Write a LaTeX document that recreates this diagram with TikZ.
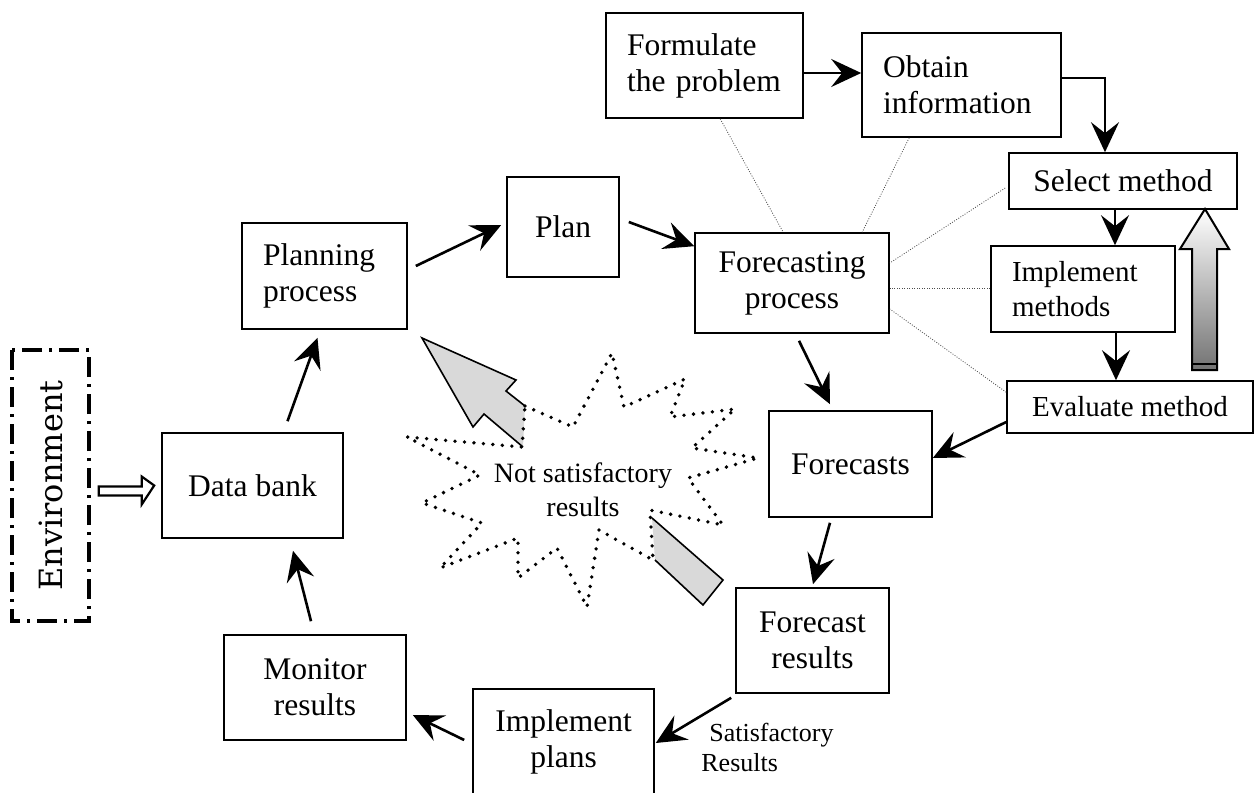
\documentclass[tikz,border=0pt]{standalone}
\usepackage{fontspec}
\setmainfont{Liberation Serif}
\newfontfamily\envfont{DejaVu Serif}
\usetikzlibrary{arrows.meta,calc}
\newcommand\mainsize{\fontsize{31.5}{36}\selectfont}
\newcommand\smallsize{\fontsize{29}{35}\selectfont}
\begin{document}
\begin{tikzpicture}[x=1pt,y=-1pt,
  box/.style={draw, line width=1.6pt, inner sep=0pt, font=\mainsize, align=center},
  lbox/.style={box, align=left, inner xsep=21pt},
  arr/.style={line width=2.6pt, -{Stealth[length=30pt,width=28pt,inset=11pt]}},
  dotlink/.style={line width=0.8pt, dash pattern=on 0.9pt off 1.6pt, black!70},
  starline/.style={line width=3.8pt, dash pattern=on 0pt off 9.5pt, line cap=round},
  grayfill/.style={fill=black!15},
  grayedge/.style={line width=1.6pt, line join=miter},
]
\path[fill=white, use as bounding box] (0,0) rectangle (1254,793);

% boxes
\node[lbox, text width=155pt, minimum height=105pt] (form) at (704.5,65.5) {Formulate\\the problem};
\node[lbox, text width=157pt, minimum height=104pt] (obtain) at (961.5,85) {Obtain\\information};
\node[box, minimum width=228pt, minimum height=56pt] (select) at (1123,181) {Select method};
\node[lbox, text width=142pt, minimum height=86pt, font=\smallsize] (implm) at (1083,289) {Implement\\methods};
\node[box, minimum width=246pt, minimum height=52pt, font=\smallsize] (eval) at (1130,407) {Evaluate method};
\node[box, minimum width=194pt, minimum height=100pt] (fproc) at (792,283) {Forecasting\\process};
\node[box, minimum width=112pt, minimum height=100pt] (plan) at (563,227) {Plan};
\node[lbox, text width=123pt, minimum height=106pt] (pproc) at (324.5,276) {Planning\\process};
\node[box, minimum width=163pt, minimum height=106pt] (forecasts) at (850.5,464) {Forecasts};
\node[box, minimum width=153pt, minimum height=105pt] (fres) at (812.5,640.5) {Forecast\\results};
\node[box, minimum width=181pt, minimum height=105pt] (implp) at (563.5,741.5) {Implement\\plans};
\node[box, minimum width=182pt, minimum height=105pt] (monitor) at (315,687.5) {Monitor\\results};
\node[box, minimum width=181pt, minimum height=105pt] (data) at (252.5,485.5) {Data bank};
\node[draw, rotate=90, line width=3.4pt, dash pattern=on 20pt off 7pt on 3pt off 7pt,
      minimum width=271pt, minimum height=77pt, inner sep=0pt,
      font=\envfont\fontsize{32}{36}\selectfont] (env) at (50.5,485.5) {Environment};

% hollow arrow environment -> data bank
\draw[line width=2.2pt, fill=white, line join=miter]
  ($(env.south)+(8,1)$) -- ++(43,0) -- ++(0,-10) -- ($(data.west)+(-7,0)$)
  -- ($(env.south)+(51,19)$) -- ++(0,-9) -- ($(env.south)+(8,10)$) -- cycle;

% main arrows
\draw[arr] ($(data.north)+(35,-11)$) -- ($(pproc.south)+(-7,8)$);
\draw[arr] ($(pproc.east)+(8,-10)$) -- ($(plan.west)+(-5,-2)$);
\draw[arr] ($(plan.east)+(9,-5)$) -- ($(fproc.north west)+(0,14)$);
\draw[arr] ($(fproc.south)+(7,7)$) -- ($(forecasts.north)+(-20.5,-6)$);
\draw[arr] ($(form.east)+(0,7.5)$) -- ($(obtain.west)+(0,-12)$);
\draw[arr] ($(obtain.east)+(0,-7)$) -| ($(select.north)+(-18,0)$);
\draw[arr] ($(select.south)+(-8,0)$) -- ($(implm.north)+(32,0)$);
\draw[arr] ($(implm.south)+(33,0)$) -- ($(eval.north)+(-14,0)$);
\draw[arr] ($(eval.west)+(0,15)$) -- ($(forecasts.east)+(0,-6)$);
\draw[arr] ($(forecasts.south)+(-20.5,5)$) -- ($(fres.north)+(0.5,-3)$);
\draw[arr] ($(fres.south west)+(-4,4)$) -- ($(implp.east)+(1,1.5)$);
\draw[arr] ($(implp.west)+(-8,-1.5)$) -- ($(monitor.east)+(6,27.5)$);
\draw[arr] ($(monitor.north)+(-4,-13)$) -- ($(data.south)+(40.5,12)$);

% dotted links
\draw[dotlink] ($(form.south west)+(115,0)$) -- ($(fproc.north west)+(89,0)$);
\draw[dotlink] ($(obtain.south west)+(48,0)$) -- ($(fproc.north west)+(168,0)$);
\draw[dotlink] ($(select.west)+(-3,7)$) -- ($(fproc.east)+(0,-20)$);
\draw[dotlink] ($(implm.west)+(0,-1)$) -- ($(fproc.east)+(0,5)$);
\draw[dotlink] ($(eval.north west)+(0,12)$) -- ($(fproc.east)+(0,26)$);

% shaded up arrow
\shadedraw[top color=white, bottom color=black!55, line width=2pt, line join=miter]
  (1192,370) -- (1192,249) -- (1180,249) -- (1205,209) -- (1229,249) -- (1217,249) -- (1217,370) -- cycle;
\draw[line width=2.5pt] (1191,370) -- (1218,370);
\draw[line width=1.5pt] (1191,364) -- (1218,364);

% gray arrows
\fill[grayfill] (422,338) -- (516,380) -- (506,391) -- (525,406) -- (523,447) -- (484,414) -- (473,427) -- cycle;
\fill[grayfill] (652,518) -- (723,580) -- (703,605) -- (655,560) -- cycle;

% starburst
\draw[starline] (525,406) -- (573,427) -- (612,353) -- (624,407) -- (685,379) -- (670,417)
  -- (735,409) -- (692,448) -- (758,458) -- (688,478) -- (723,525) -- (650,510)
  -- (653,560) -- (599,530) -- (587,607) -- (557,548) -- (518,578) -- (518,538)
  -- (440,568) -- (482,523) -- (422,503) -- (480,475) -- (407,437) -- (522,447) -- cycle;

\draw[grayedge] (525,406) -- (506,391) -- (516,380) -- (422,338) -- (473,427) -- (484,414) -- (523,447);
\draw[grayedge] (652,518) -- (723,580) -- (703,605) -- (655,560);

\node[font=\fontsize{28}{34}\selectfont, align=center] (nsr) at (583,490) {Not satisfactory\\results};
\node[anchor=west, font=\fontsize{26}{30}\selectfont, align=left, inner sep=0pt] (sat)
  at ($(fres.south west)+(-34,54)$) {\hspace*{8pt}Satisfactory\\Results};
\end{tikzpicture}
\end{document}
